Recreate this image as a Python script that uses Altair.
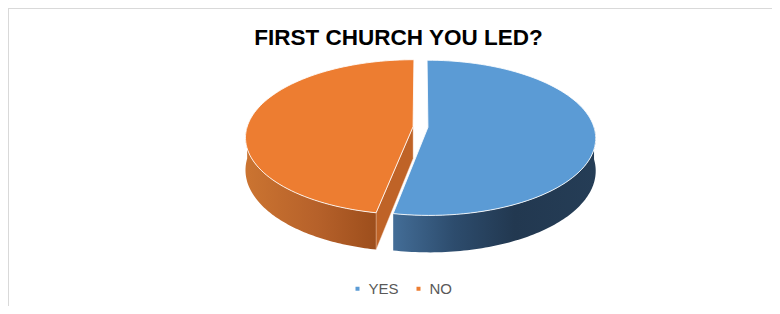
import altair as alt
import pandas as pd

# ---- data ----
categories = ["YES", "NO"]
values = [53, 47]
title_text = "FIRST CHURCH YOU LED?"

# ---- styles ----
top_colors = ["#5B9BD5", "#ED7D31"]
side_stops = {
    "YES": [("#436D97", 0.0), ("#2D4C6D", 0.3), ("#223850", 0.6), ("#253D56", 1.0)],
    "NO": [("#CB7431", 0.0), ("#B6612A", 0.55), ("#9D4E1C", 1.0)],
}
cut_colors = {"YES": "#3A6690", "NO": "#BF6327"}

df = pd.DataFrame({"answer": categories, "value": values})
title_df = pd.DataFrame({"title": [title_text]})

# ---- layout / projection parameters ----
W, H = 764, 298
PAD_TOP = 50
VIEW_H = H - PAD_TOP
A_PX, B_PX = 166.0, 76.1      # pixels per unit radius (horizontal / vertical)
CX, CY = 412.5, 69.0          # projected pie centre inside the view
N = 90                        # points along each arc
P = 0.135                     # perspective factor
EXP = 0.045                   # explosion distance
DEPTH = 0.42                  # pie thickness

xdom = [-CX / A_PX, (W - CX) / A_PX]
ydom = [-(VIEW_H - CY) / B_PX, CY / B_PX]

X_ENC = alt.X("px:Q", scale=alt.Scale(domain=xdom, nice=False, zero=False), axis=None)
Y_ENC = alt.Y("py:Q", scale=alt.Scale(domain=ydom, nice=False, zero=False), axis=None)


def base():
    return (
        alt.Chart(df)
        .transform_joinaggregate(total="sum(value)")
        .transform_window(cum="sum(value)", frame=[None, 0])
        .transform_calculate(t0="2*PI*(datum.cum - datum.value)/datum.total")
        .transform_calculate(t1="2*PI*datum.cum/datum.total")
        .transform_calculate(tm="(datum.t0 + datum.t1)/2")
        .transform_calculate(ex=f"{EXP}*sin(datum.tm)")
        .transform_calculate(ez=f"{EXP}*cos(datum.tm)")
    )


def project(ch, low_expr="0"):
    return ch.transform_calculate(
        px=f"datum.X/(1 + {P}*datum.Z)"
    ).transform_calculate(
        py=f"(datum.Z - ({low_expr})*{DEPTH})/(1 + {P}*datum.Z)"
    )


# side (rim) faces, front half only
side_layers = []
for cat in categories:
    ch = (
        base()
        .transform_filter(alt.datum.answer == cat)
        .transform_calculate(a0="max(datum.t0, PI/2)")
        .transform_calculate(a1="min(datum.t1, 3*PI/2)")
        .transform_filter("datum.a1 > datum.a0")
        .transform_calculate(k=f"sequence(0, {2 * N + 2})")
        .transform_flatten(["k"])
        .transform_calculate(
            tt=f"datum.k <= {N} ? datum.a0 + (datum.a1 - datum.a0)*datum.k/{N} : datum.a1 - (datum.a1 - datum.a0)*(datum.k - {N + 1})/{N}"
        )
        .transform_calculate(X="datum.ex + sin(datum.tt)")
        .transform_calculate(Z="datum.ez + cos(datum.tt)")
    )
    ch = project(ch, f"datum.k > {N} ? 1 : 0")
    grad = alt.Gradient(
        gradient="linear",
        stops=[alt.GradientStop(color=c, offset=o) for c, o in side_stops[cat]],
        x1=0, x2=1, y1=0, y2=0,
    )
    side_layers.append(
        ch.mark_line(filled=True, interpolate="linear-closed", fill=grad, strokeWidth=0).encode(
            x=X_ENC, y=Y_ENC, order="k:Q"
        )
    )

# radial cut faces that face the viewer
cut_layers = []
for cat in categories:
    ch = (
        base()
        .transform_filter(alt.datum.answer == cat)
        .transform_calculate(k="sequence(0, 8)")
        .transform_flatten(["k"])
        .transform_calculate(face="datum.k < 4 ? 'start' : 'end'")
        .transform_calculate(j="datum.k % 4")
        .transform_filter(
            "(datum.face == 'start' && sin(datum.t0) < -0.001) || (datum.face == 'end' && sin(datum.t1) > 0.001)"
        )
        .transform_calculate(ang="datum.face == 'start' ? datum.t0 : datum.t1")
        .transform_calculate(rim="(datum.j == 1 || datum.j == 2) ? 1 : 0")
        .transform_calculate(X="datum.ex + datum.rim*sin(datum.ang)")
        .transform_calculate(Z="datum.ez + datum.rim*cos(datum.ang)")
    )
    ch = project(ch, "datum.j >= 2 ? 1 : 0")
    cut_layers.append(
        ch.mark_line(
            filled=True, interpolate="linear-closed", fill=cut_colors[cat],
            stroke="#F2D0B8", strokeWidth=0.6, strokeOpacity=0.7,
        ).encode(x=X_ENC, y=Y_ENC, order="j:Q", detail="face:N")
    )

# top faces
top = (
    base()
    .transform_calculate(k=f"sequence(0, {N + 2})")
    .transform_flatten(["k"])
    .transform_calculate(tt=f"datum.t0 + (datum.t1 - datum.t0)*(datum.k - 1)/{N}")
    .transform_calculate(X="datum.ex + (datum.k == 0 ? 0 : sin(datum.tt))")
    .transform_calculate(Z="datum.ez + (datum.k == 0 ? 0 : cos(datum.tt))")
)
top = project(top).mark_line(
    filled=True, interpolate="linear-closed", stroke="white", strokeWidth=1, strokeOpacity=0.85
).encode(
    x=X_ENC,
    y=Y_ENC,
    order="k:Q",
    detail="answer:N",
    color=alt.Color(
        "answer:N",
        scale=alt.Scale(domain=categories, range=top_colors),
        legend=alt.Legend(
            title=None, orient="none", legendX=342, legendY=223, direction="horizontal",
            symbolType="square", symbolSize=16, symbolStrokeWidth=0,
            labelFontSize=15, labelColor="#595959", labelFont="Liberation Sans",
            labelOffset=3.5, columnPadding=12,
        ),
    ),
)

frame = alt.layer(
    alt.Chart(df.head(1)).mark_rule(color="#D9D9D9", strokeWidth=1).encode(
        x=alt.value(0.5), y=alt.value(-PAD_TOP + 0.5), y2=alt.value(VIEW_H)
    ),
    alt.Chart(df.head(1)).mark_rule(color="#D9D9D9", strokeWidth=1).encode(
        x=alt.value(0), x2=alt.value(W), y=alt.value(-PAD_TOP + 0.5)
    ),
)

title = alt.Chart(title_df).mark_text(
    font="Liberation Sans", fontSize=22.5, fontWeight="bold",
    color="#000000", align="center", baseline="alphabetic",
).encode(text="title:N", x=alt.value(390.5), y=alt.value(-13.5))

chart = alt.layer(frame, *side_layers, *cut_layers, top, title).properties(
    width=W,
    height=VIEW_H,
    autosize=alt.AutoSizeParams(type="none"),
    padding={"left": 0, "top": PAD_TOP, "right": 0, "bottom": 0},
).configure_view(stroke=None)

chart.save("out.html", embed_options={"renderer": "svg", "actions": False})
